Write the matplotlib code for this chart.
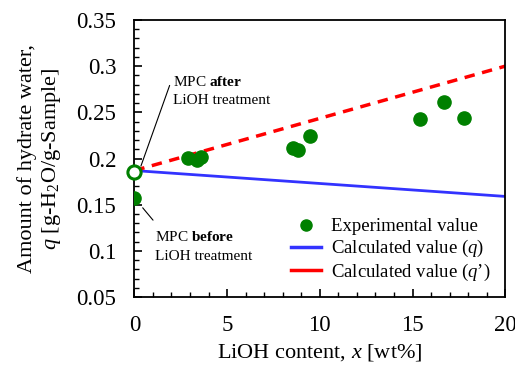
import matplotlib.pyplot as plt
import numpy as np
from matplotlib.lines import Line2D
from matplotlib.ticker import MultipleLocator

plt.rcParams['font.family'] = ['Liberation Serif', 'DejaVu Serif']
plt.rcParams['mathtext.fontset'] = 'custom'
plt.rcParams['mathtext.rm'] = 'Liberation Serif'
plt.rcParams['mathtext.it'] = 'Liberation Serif:italic'
plt.rcParams['mathtext.bf'] = 'Liberation Serif:bold'

# experimental values (LiOH content, hydrate water)
x_exp = [0.0, 2.9, 3.35, 3.6, 8.55, 8.8, 9.45, 15.4, 16.7, 17.8]
q_exp = [0.157, 0.201, 0.198, 0.202, 0.211, 0.209, 0.224, 0.243, 0.261, 0.244]

# MPC after LiOH treatment (open circle)
x_after = [0.0]
q_after = [0.185]

# calculated lines
x_calc = [0.0, 20.0]
q_calc = [0.187, 0.159]
q_calc2 = [0.187, 0.300]

fig = plt.figure(figsize=(5.15, 3.7), dpi=100)
ax = fig.add_axes([0.261, 0.197, 0.72, 0.749])

ax.plot(x_calc, q_calc, color='#3333ff', lw=2, zorder=2)
ax.plot(x_calc, q_calc2, color='red', lw=2.5, ls=(0, (3, 2.2)), zorder=2)
ax.plot(x_exp, q_exp, 'o', color='green', ms=9.5, zorder=3)
ax.plot(x_after, q_after, 'o', mfc='white', mec='green', mew=2.2, ms=9.5,
        zorder=4, clip_on=False)

# leader lines + labels
ax.annotate('', xy=(0.3, 0.189), xytext=(1.95, 0.282),
            arrowprops=dict(arrowstyle='-', color='black', lw=0.8))
ax.text(2.1, 0.273, 'MPC $\\mathbf{after}$\nLiOH treatment', fontsize=11,
        ha='left', va='center', linespacing=1.55)
ax.annotate('', xy=(0.35, 0.149), xytext=(1.1, 0.131),
            arrowprops=dict(arrowstyle='-', color='black', lw=0.8))
ax.text(1.12, 0.105, 'MPC $\\mathbf{before}$\nLiOH treatment', fontsize=11,
        ha='left', va='center', linespacing=1.55)

ax.set_xlim(0, 20)
ax.set_ylim(0.05, 0.35)
ax.xaxis.set_major_locator(MultipleLocator(5))
ax.xaxis.set_minor_locator(MultipleLocator(1))
ax.yaxis.set_minor_locator(MultipleLocator(0.01))
ax.set_yticks(np.arange(0.05, 0.351, 0.05))
ax.set_yticklabels(['0.05', '0.1', '0.15', '0.2', '0.25', '0.3', '0.35'])
ax.tick_params(which='both', direction='in', labelsize=16.5, top=False, right=False)
ax.tick_params(axis='y', which='major', length=6, width=1.2, pad=13)
ax.tick_params(axis='x', which='major', length=6, width=1.2, pad=13)
ax.tick_params(which='minor', length=3.5, width=1)
for s in ax.spines.values():
    s.set_linewidth(1.3)

ax.set_xlabel('LiOH content, $x$ [wt%]', fontsize=16, labelpad=4)
ax.set_ylabel('Amount of hydrate water,\n$q$ [g-H$_2$O/g-Sample]', fontsize=16,
              labelpad=10, linespacing=1.15)

handles = [
    Line2D([], [], marker='o', ls='none', color='green', ms=8),
    Line2D([], [], color='#3333ff', lw=2.5),
    Line2D([], [], color='red', lw=2.5),
]
labels = ['Experimental value', 'Calculated value ($q$)', "Calculated value ($q$\u2019)"]
ax.legend(handles, labels, loc='lower right', frameon=False, fontsize=13.5,
          handlelength=1.6, handletextpad=0.55, labelspacing=0.15,
          bbox_to_anchor=(0.99, 0.01), borderaxespad=0.2)

fig.savefig('out.png', dpi=100)
